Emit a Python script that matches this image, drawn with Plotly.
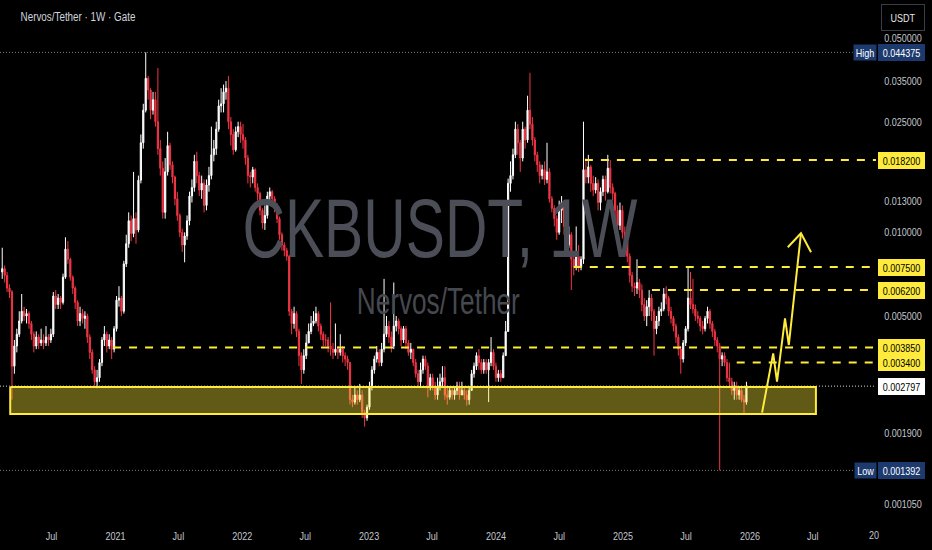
import math
import pandas as pd
import plotly.graph_objects as go

# ---------------- data ----------------
first_week = "2020-02-10"
first_open = 0.0072
closes = [
    0.0074, 0.0070, 0.0063, 0.0061, 0.0033, 0.0039, 0.0043, 0.0048, 0.0052, 0.0050,
    0.0051, 0.0047, 0.0043, 0.0039, 0.0042, 0.0040, 0.0041, 0.0040, 0.0042, 0.0041,
    0.0043, 0.0059, 0.0055, 0.0058, 0.0056, 0.0069, 0.0087, 0.0080, 0.0069, 0.0063,
    0.0056, 0.0048, 0.0051, 0.0049, 0.0050, 0.0042, 0.0037, 0.0032, 0.0029, 0.0030,
    0.0034, 0.0041, 0.0043, 0.0039, 0.0041, 0.0038, 0.0045, 0.0057, 0.0058, 0.0052,
    0.0077, 0.0091, 0.0110, 0.0099, 0.0112, 0.0102, 0.0154, 0.0210, 0.0275, 0.0358,
    0.0325, 0.0275, 0.0300, 0.0250, 0.0200, 0.0170, 0.0118, 0.0165, 0.0205, 0.0175,
    0.0158, 0.0132, 0.0115, 0.0100, 0.0090, 0.0097, 0.0110, 0.0135, 0.0145, 0.0180,
    0.0160, 0.0142, 0.0150, 0.0125, 0.0148, 0.0160, 0.0190, 0.0200, 0.0235, 0.0285,
    0.0290, 0.0320, 0.0330, 0.0250, 0.0225, 0.0198, 0.0230, 0.0240, 0.0225, 0.0215,
    0.0185, 0.0160, 0.0158, 0.0168, 0.0145, 0.0138, 0.0120, 0.0108, 0.0115, 0.0135,
    0.0140, 0.0132, 0.0125, 0.0112, 0.0098, 0.0090, 0.0086, 0.0082, 0.0052, 0.0047,
    0.0051, 0.0044, 0.0036, 0.0032, 0.0036, 0.0040, 0.0044, 0.0047, 0.0048, 0.0051,
    0.0046, 0.0043, 0.0041, 0.0041, 0.0039, 0.0038, 0.0037, 0.0038, 0.0037, 0.0038,
    0.0036, 0.0035, 0.0034, 0.0025, 0.00245, 0.0026, 0.0025, 0.0026, 0.00225, 0.00215,
    0.00235, 0.0028, 0.0032, 0.0035, 0.0037, 0.0034, 0.0038, 0.0043, 0.0046, 0.0042,
    0.0039, 0.0046, 0.0048, 0.0045, 0.0041, 0.0045, 0.0040, 0.0037, 0.0038, 0.0034,
    0.0031, 0.0029, 0.0032, 0.0035, 0.0033, 0.0028, 0.0030, 0.0028, 0.0026, 0.0028,
    0.0029, 0.0030, 0.0026, 0.00255, 0.0027, 0.0026, 0.0027, 0.0028, 0.0026, 0.0027,
    0.0026, 0.0025, 0.0027, 0.0031, 0.0033, 0.0036, 0.0034, 0.0032, 0.0034, 0.0032,
    0.0034, 0.0037, 0.0033, 0.0030, 0.0031, 0.0030, 0.0036, 0.0044, 0.0150, 0.0160,
    0.0190, 0.0235, 0.0210, 0.0185, 0.0235, 0.0215, 0.0275, 0.0245, 0.0215, 0.0190,
    0.0175, 0.0160, 0.0168, 0.0155, 0.0165, 0.0132, 0.0122, 0.0112, 0.0100, 0.0120,
    0.0128, 0.0105, 0.0090, 0.0098, 0.0080, 0.0075, 0.0082, 0.0075, 0.0080, 0.0168,
    0.0158, 0.0172, 0.0150, 0.0142, 0.0150, 0.0128, 0.0140, 0.0155, 0.0140, 0.0170,
    0.0145, 0.0138, 0.0120, 0.0106, 0.0120, 0.0100, 0.0092, 0.0082, 0.0070, 0.0064,
    0.0063, 0.0066, 0.0062, 0.0055, 0.0050, 0.0054, 0.0058, 0.0052, 0.0045, 0.0048,
    0.0052, 0.0053, 0.0060, 0.0058, 0.0052, 0.0049, 0.0046, 0.0042, 0.0038, 0.0035,
    0.0040, 0.0045, 0.0058, 0.0055, 0.0053, 0.0050, 0.0049, 0.0046, 0.0045, 0.0049,
    0.0052, 0.0047, 0.0044, 0.0041, 0.0039, 0.0035, 0.0036, 0.0034, 0.0030, 0.0029,
    0.0027, 0.0028, 0.0026, 0.0027, 0.0025, 0.00245, 0.002797,
]
highs = [
    0.0088, 0.0076, 0.0072, 0.0065, 0.0062, 0.0041, 0.0045, 0.0052, 0.0060, 0.0054,
    0.0053, 0.0052, 0.0048, 0.0044, 0.0044, 0.0043, 0.0045, 0.0043, 0.0046, 0.0043,
    0.0045, 0.0061, 0.0062, 0.0060, 0.0059, 0.0071, 0.0096, 0.0093, 0.0081, 0.0070,
    0.0064, 0.0057, 0.0054, 0.0053, 0.0052, 0.0051, 0.0043, 0.0038, 0.0033, 0.0032,
    0.0035, 0.0042, 0.0046, 0.0044, 0.0043, 0.0042, 0.0046, 0.0059, 0.0064, 0.0059,
    0.0079, 0.0098, 0.0118, 0.0115, 0.0165, 0.0118, 0.0160, 0.0225, 0.0290, 0.044375,
    0.0365, 0.0330, 0.0320, 0.0320, 0.0390, 0.0215, 0.0180, 0.0185, 0.0230, 0.0210,
    0.0180, 0.0160, 0.0140, 0.0117, 0.0103, 0.0100, 0.0115, 0.0140, 0.0155, 0.0190,
    0.0195, 0.0165, 0.0160, 0.0155, 0.0155, 0.0172, 0.0240, 0.0215, 0.0250, 0.0300,
    0.0330, 0.0340, 0.0350, 0.0365, 0.0260, 0.0235, 0.0240, 0.0250, 0.0250, 0.0245,
    0.0220, 0.0190, 0.0165, 0.0172, 0.0170, 0.0150, 0.0140, 0.0122, 0.0125, 0.0140,
    0.0145, 0.0142, 0.0135, 0.0127, 0.0114, 0.0100, 0.0092, 0.0088, 0.0083, 0.0053,
    0.0054, 0.0052, 0.0045, 0.0037, 0.0038, 0.0043, 0.0047, 0.0050, 0.0052, 0.0054,
    0.0052, 0.0047, 0.0044, 0.0043, 0.0042, 0.0056, 0.0040, 0.0047, 0.0039, 0.0043,
    0.0039, 0.0037, 0.0036, 0.0034, 0.0026, 0.0028, 0.0027, 0.00285, 0.0027, 0.0023,
    0.0024, 0.0029, 0.0033, 0.0036, 0.0039, 0.0038, 0.0040, 0.0068, 0.0050, 0.0048,
    0.0044, 0.0066, 0.0050, 0.0049, 0.0046, 0.0046, 0.0046, 0.0041, 0.0040, 0.0038,
    0.0035, 0.0032, 0.0034, 0.0036, 0.0036, 0.0034, 0.0031, 0.0031, 0.0029, 0.0030,
    0.0031, 0.0033, 0.0033, 0.0028, 0.0028, 0.0028, 0.0028, 0.0029, 0.0029, 0.0029,
    0.0028, 0.0027, 0.0028, 0.0032, 0.0034, 0.0037, 0.0038, 0.0035, 0.0035, 0.0035,
    0.0035, 0.0042, 0.0038, 0.0034, 0.0032, 0.0032, 0.0037, 0.0048, 0.0156, 0.0180,
    0.0200, 0.0250, 0.0245, 0.0215, 0.0250, 0.0240, 0.0310, 0.0375, 0.0260, 0.0220,
    0.0195, 0.0180, 0.0175, 0.0180, 0.0210, 0.0170, 0.0135, 0.0125, 0.0115, 0.0130,
    0.0135, 0.0130, 0.0108, 0.0105, 0.0100, 0.0085, 0.0105, 0.0090, 0.0082, 0.0250,
    0.0185, 0.0190, 0.0175, 0.0160, 0.0158, 0.0155, 0.0145, 0.0160, 0.0160, 0.0190,
    0.0182, 0.0150, 0.0140, 0.0125, 0.0128, 0.0125, 0.0105, 0.0095, 0.0084, 0.0072,
    0.0066, 0.0080, 0.0068, 0.0065, 0.0058, 0.0057, 0.0062, 0.0060, 0.0053, 0.0050,
    0.0054, 0.0056, 0.0063, 0.0064, 0.0059, 0.0054, 0.0050, 0.0047, 0.0043, 0.0039,
    0.0041, 0.0046, 0.0075, 0.0072, 0.0068, 0.0055, 0.0052, 0.0050, 0.0048, 0.0050,
    0.0054, 0.0053, 0.0048, 0.0045, 0.0042, 0.0040, 0.0037, 0.0037, 0.0035, 0.0034,
    0.0030, 0.0029, 0.0029, 0.0028, 0.0028, 0.0026, 0.0029,
]
lows = [
    0.0068, 0.0066, 0.0061, 0.0058, 0.0025, 0.0031, 0.0037, 0.0042, 0.0047, 0.0048,
    0.0047, 0.0045, 0.0041, 0.0037, 0.0038, 0.0038, 0.0039, 0.0038, 0.0039, 0.0039,
    0.0040, 0.0042, 0.0053, 0.0053, 0.0053, 0.0055, 0.0068, 0.0077, 0.0067, 0.0060,
    0.0053, 0.0046, 0.0046, 0.0047, 0.0045, 0.0040, 0.0035, 0.0031, 0.0028, 0.00275,
    0.0029, 0.0033, 0.0039, 0.0037, 0.0038, 0.0035, 0.0037, 0.0044, 0.0054, 0.0050,
    0.0051, 0.0075, 0.0088, 0.0093, 0.0096, 0.0091, 0.0100, 0.0150, 0.0200, 0.0270,
    0.0300, 0.0255, 0.0265, 0.0240, 0.0190, 0.0160, 0.0112, 0.0112, 0.0160, 0.0168,
    0.0150, 0.0125, 0.0110, 0.0096, 0.0085, 0.0078, 0.0094, 0.0106, 0.0128, 0.0140,
    0.0150, 0.0135, 0.0132, 0.0118, 0.0120, 0.0140, 0.0155, 0.0180, 0.0190, 0.0230,
    0.0270, 0.0270, 0.0300, 0.0235, 0.0205, 0.0190, 0.0195, 0.0220, 0.0210, 0.0200,
    0.0175, 0.0150, 0.0145, 0.0150, 0.0140, 0.0130, 0.0115, 0.0103, 0.0102, 0.0112,
    0.0130, 0.0128, 0.0118, 0.0108, 0.0094, 0.0086, 0.0082, 0.0079, 0.0050, 0.0043,
    0.0045, 0.0042, 0.0033, 0.00285, 0.0031, 0.0035, 0.0040, 0.0043, 0.0046, 0.0047,
    0.0044, 0.0041, 0.0039, 0.0039, 0.0037, 0.0036, 0.0035, 0.0036, 0.0035, 0.0036,
    0.0034, 0.0033, 0.0032, 0.0024, 0.00235, 0.0024, 0.0024, 0.00245, 0.00215, 0.00200,
    0.0021, 0.0023, 0.0027, 0.0031, 0.0034, 0.0033, 0.0033, 0.0037, 0.0042, 0.0040,
    0.0037, 0.0038, 0.0044, 0.0043, 0.0039, 0.0040, 0.0038, 0.0036, 0.0035, 0.0033,
    0.0030, 0.0028, 0.0028, 0.0031, 0.0032, 0.00255, 0.0027, 0.0027, 0.0025, 0.0025,
    0.0027, 0.0028, 0.0025, 0.0024, 0.0025, 0.0025, 0.0025, 0.0026, 0.0025, 0.0026,
    0.0025, 0.00238, 0.0024, 0.0027, 0.0030, 0.0032, 0.0032, 0.0031, 0.0031, 0.0031,
    0.00245, 0.0033, 0.0032, 0.0029, 0.0029, 0.0029, 0.0030, 0.0036, 0.0044, 0.0140,
    0.0155, 0.0185, 0.0190, 0.0165, 0.0180, 0.0200, 0.0210, 0.0235, 0.0205, 0.0180,
    0.0165, 0.0150, 0.0155, 0.0148, 0.0150, 0.0128, 0.0118, 0.0105, 0.0094, 0.0098,
    0.0108, 0.0098, 0.0083, 0.0088, 0.0062, 0.0070, 0.0073, 0.0072, 0.0073, 0.0077,
    0.0150, 0.0150, 0.0140, 0.0135, 0.0138, 0.0120, 0.0120, 0.0135, 0.0130, 0.0138,
    0.0138, 0.0130, 0.0112, 0.0100, 0.0102, 0.0095, 0.0088, 0.0078, 0.0066, 0.0061,
    0.0059, 0.0060, 0.0058, 0.0052, 0.0048, 0.0046, 0.0050, 0.0048, 0.0036, 0.0043,
    0.0046, 0.0050, 0.0052, 0.0055, 0.0050, 0.0047, 0.0044, 0.0040, 0.0036, 0.0031,
    0.0034, 0.0039, 0.0044, 0.0053, 0.0051, 0.0048, 0.0047, 0.0044, 0.0043, 0.0044,
    0.0047, 0.0045, 0.0042, 0.0039, 0.0037, 0.001392, 0.0033, 0.0033, 0.0029, 0.0028,
    0.0026, 0.0025, 0.0025, 0.0025, 0.00245, 0.0022, 0.0024,
]

# horizontal levels (price, first date of the dashed line, label)
level_prices = [0.0182, 0.0075, 0.0062, 0.00385, 0.0034]
level_starts = ["2024-09-13", "2024-08-12", "2025-03-25", "2020-12-25", "2025-11-24"]
level_texts = ["0.018200", "0.007500", "0.006200", "0.003850", "0.003400"]

# support zone
zone_dates = ["2020-03-04", "2026-07-10"]
zone_prices = [0.00222, 0.00278]

# projected path and arrow head
path_dates = ["2026-02-05", "2026-03-09", "2026-03-20", "2026-04-12", "2026-04-23", "2026-05-28"]
path_prices = [0.002245, 0.003671, 0.002902, 0.004906, 0.003933, 0.009920]
head_dates = ["2026-04-20", "2026-05-28", "2026-06-26"]
head_prices = [0.008834, 0.009920, 0.008475]

high_value, low_value, last_value = 0.044375, 0.001392, 0.002797

price_ticks = [0.05, 0.035, 0.025, 0.013, 0.01, 0.005, 0.0019, 0.00105]
price_tick_text = ["0.050000", "0.035000", "0.025000", "0.013000", "0.010000",
                   "0.005000", "0.001900", "0.001050"]
time_ticks = ["2020-07-01", "2021-01-01", "2021-07-01", "2022-01-01", "2022-07-01",
              "2023-01-01", "2023-07-01", "2024-01-01", "2024-07-01", "2025-01-01",
              "2025-07-01", "2026-01-01", "2026-07-01"]
time_tick_text = ["Jul", "2021", "Jul", "2022", "Jul", "2023", "Jul", "2024", "Jul",
                  "2025", "Jul", "2026", "Jul"]

x_range = ["2020-02-03 14:00", "2026-12-29 22:00"]
y_range_log = [-3.0348, -1.1643]

# ---------------- figure ----------------
FONT = "Liberation Sans, Arial, sans-serif"
YELLOW = "#ffeb3b"
NAVY = "#1c3a6e"
AXIS_TXT = "#c3c6ce"

dates = pd.date_range(first_week, periods=len(closes), freq="7D")
opens = [first_open] + closes[:-1]
hi = [max(h, o, c) for h, o, c in zip(highs, opens, closes)]
lo = [min(l, o, c) for l, o, c in zip(lows, opens, closes)]

fig = go.Figure()

# watermark (drawn first so candles sit on top)
fig.add_trace(go.Scatter(
    x=["2023-07-24"], y=[0.00972], mode="text", text=["CKBUSDT, 1W"],
    textfont=dict(family=FONT, size=84, color="#4b4e56"),
    textposition="middle center", hoverinfo="skip", showlegend=False))
fig.add_trace(go.Scatter(
    x=["2023-07-19"], y=[0.00546], mode="text", text=["Nervos/Tether"],
    textfont=dict(family=FONT, size=36, color="#46484f"),
    textposition="middle center", hoverinfo="skip", showlegend=False))

# dotted reference lines
fig.add_trace(go.Scatter(x=[x_range[0], "2026-10-24"], y=[high_value, high_value],
                         mode="lines", line=dict(color="#787b86", width=1, dash="1px,2px"),
                         hoverinfo="skip", showlegend=False))
fig.add_trace(go.Scatter(x=[x_range[0], "2026-10-26"], y=[low_value, low_value],
                         mode="lines", line=dict(color="#787b86", width=1, dash="1px,2px"),
                         hoverinfo="skip", showlegend=False))
fig.add_trace(go.Scatter(x=[x_range[0], x_range[1]], y=[last_value, last_value],
                         mode="lines", line=dict(color="#d8d8d8", width=1, dash="1px,2px"),
                         hoverinfo="skip", showlegend=False))

fig.add_trace(go.Candlestick(
    x=dates, open=opens, high=hi, low=lo, close=closes,
    increasing=dict(line=dict(color="#ffffff", width=1), fillcolor="#ffffff"),
    decreasing=dict(line=dict(color="#f23645", width=1), fillcolor="#f23645"),
    whiskerwidth=0, hoverinfo="skip", showlegend=False))

# support zone
fig.add_trace(go.Scatter(
    x=[zone_dates[0], zone_dates[1], zone_dates[1], zone_dates[0], zone_dates[0]],
    y=[zone_prices[1], zone_prices[1], zone_prices[0], zone_prices[0], zone_prices[1]],
    mode="lines", fill="toself", fillcolor="rgba(255,235,59,0.38)",
    line=dict(color=YELLOW, width=2), hoverinfo="skip", showlegend=False))

# dashed levels
for p, s in zip(level_prices, level_starts):
    fig.add_trace(go.Scatter(x=[s, x_range[1]], y=[p, p], mode="lines",
                             line=dict(color=YELLOW, width=2, dash="8px,8px"),
                             hoverinfo="skip", showlegend=False))

# projection arrow
fig.add_trace(go.Scatter(x=path_dates, y=path_prices, mode="lines",
                         line=dict(color=YELLOW, width=2), hoverinfo="skip", showlegend=False))
fig.add_trace(go.Scatter(x=head_dates, y=head_prices, mode="lines",
                         line=dict(color=YELLOW, width=2), hoverinfo="skip", showlegend=False))

PLOT_W = 876.0
PLOT_H = 520.0


def px_x(px):
    return px / PLOT_W


def price_box(value, text, bg, fg, border=None):
    return dict(xref="paper", yref="y", x=px_x(878), y=math.log10(value), xanchor="left",
                yanchor="middle", text=text, showarrow=False, bgcolor=bg,
                bordercolor=border or bg, borderwidth=1, borderpad=1, width=43, height=13,
                font=dict(family=FONT, size=11, color=fg))


anns = []
anns.append(price_box(high_value, "0.044375", NAVY, "#ffffff"))
anns.append(dict(xref="paper", yref="y", x=px_x(877), y=math.log10(high_value), xanchor="right",
                 yanchor="middle", text="High", showarrow=False, bgcolor=NAVY, borderpad=1,
                 width=20, height=13, font=dict(family=FONT, size=11, color="#ffffff")))
anns.append(price_box(low_value, "0.001392", NAVY, "#ffffff"))
anns.append(dict(xref="paper", yref="y", x=px_x(877), y=math.log10(low_value), xanchor="right",
                 yanchor="middle", text="Low", showarrow=False, bgcolor=NAVY, borderpad=1,
                 width=19, height=13, font=dict(family=FONT, size=11, color="#ffffff")))
for p, t in zip(level_prices, level_texts):
    anns.append(price_box(p, t, YELLOW, "#000000"))
anns.append(price_box(last_value, "0.002797", "#ffffff", "#000000"))

# title + currency button + clipped time label
anns.append(dict(xref="paper", yref="paper", x=px_x(6), y=1 - 17 / PLOT_H, xanchor="left",
                 yanchor="middle", text="Nervos/Tether · 1W · Gate", showarrow=False,
                 font=dict(family=FONT, size=12, color="#d1d4dc")))
anns.append(dict(xref="paper", yref="paper", x=px_x(903), y=1 - 17.5 / PLOT_H, xanchor="center",
                 yanchor="middle", text="USDT", showarrow=False, bgcolor="#000000",
                 bordercolor="#3a3d47", borderwidth=1, borderpad=2, width=38, height=21,
                 font=dict(family=FONT, size=11, color="#e8e8e8")))
anns.append(dict(xref="paper", yref="paper", x=px_x(866), y=-15 / PLOT_H, xanchor="left",
                 yanchor="middle", text="20", showarrow=False,
                 font=dict(family=FONT, size=11, color=AXIS_TXT)))

fig.update_layout(
    width=932, height=550,
    margin=dict(l=0, r=932 - int(PLOT_W), t=0, b=30, pad=0),
    paper_bgcolor="#000000", plot_bgcolor="#000000",
    showlegend=False, annotations=anns,
    xaxis=dict(type="date", range=x_range, rangeslider=dict(visible=False),
               showgrid=False, zeroline=False, showline=False,
               tickvals=time_ticks, ticktext=time_tick_text,
               ticks="outside", ticklen=6, tickcolor="#000000",
               tickfont=dict(family=FONT, size=11, color=AXIS_TXT)),
    yaxis=dict(type="log", range=y_range_log, side="right",
               showgrid=False, zeroline=False, showline=False,
               tickvals=price_ticks, ticktext=price_tick_text,
               ticks="outside", ticklen=5, tickcolor="#000000",
               tickfont=dict(family=FONT, size=11, color=AXIS_TXT)),
)

# page without body margin; text drawn slightly condensed like the reference
post_js = """
document.body.style.margin = '0px';
document.body.style.padding = '0px';
document.body.style.background = '#000000';
var gd = document.getElementById('{plot_id}');
gd.querySelectorAll('svg text').forEach(function (t) {
  var s = t.textContent;
  if (!s) { return; }
  var target;
  if (s === 'CKBUSDT, 1W') { target = 395; }
  else if (s === 'Nervos/Tether') { target = 163; }
  else { target = t.getComputedTextLength() * 0.82; }
  t.setAttribute('textLength', target);
  t.setAttribute('lengthAdjust', 'spacingAndGlyphs');
});
"""

fig.write_html("out.html", post_script=post_js, config={"displayModeBar": False})
